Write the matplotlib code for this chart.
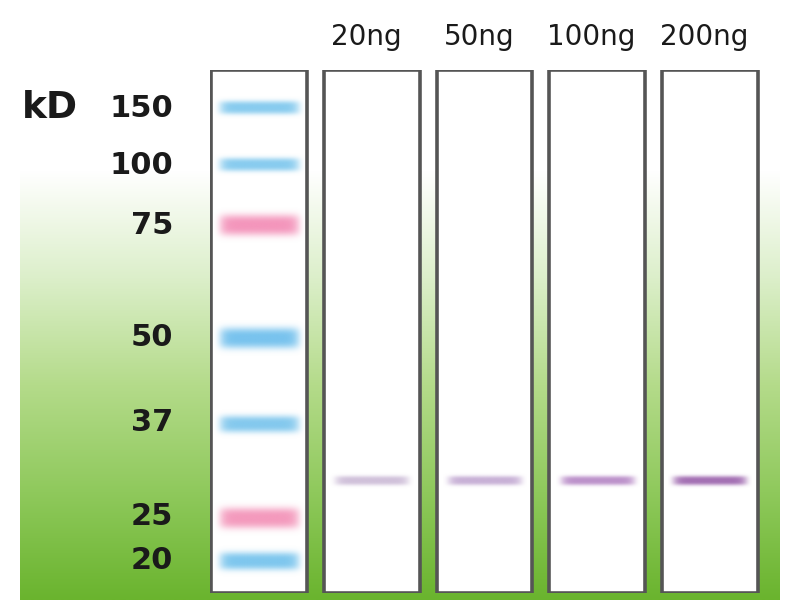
import numpy as np
import matplotlib.pyplot as plt
from matplotlib.colors import LinearSegmentedColormap, to_rgb
from matplotlib.patches import Rectangle

# marker ladder (kD) and relative migration (0 = top of lane, 1 = bottom)
marker_kd = ["150", "100", "75", "50", "37", "25", "20"]
marker_rf = [0.073, 0.182, 0.297, 0.513, 0.676, 0.856, 0.939]
marker_col = ["#88ccef", "#88ccef", "#f496bc", "#78c3ee", "#84c9ee", "#f49abd", "#7ec7ee"]
marker_thick = [0.020, 0.020, 0.032, 0.032, 0.026, 0.032, 0.027]

# sample lanes
lane_labels = ["20ng", "50ng", "100ng", "200ng"]
band_rf = [0.785, 0.785, 0.785, 0.785]
band_col = ["#c8b6d4", "#c2a8d2", "#b98cc8", "#a470b4"]
band_strength = [0.85, 0.9, 0.95, 1.0]

fig = plt.figure(figsize=(8, 6), dpi=100)

# green backdrop
bg = fig.add_axes([0, 0, 1, 1])
bg.set_xlim(0, 800)
bg.set_ylim(600, 0)
bg.axis("off")
green = LinearSegmentedColormap.from_list("g", ["#ffffff", "#dcefca", "#b4db8a", "#8fc95c", "#6ab42e"])
grad = np.linspace(0, 1, 256).reshape(-1, 1)
bg.imshow(grad, cmap=green, aspect="auto", extent=[20, 780, 600, 170], zorder=0)

# gel axes: x = lane index, y = relative migration
gel = fig.add_axes([210 / 800, 1 - 593 / 600, 550 / 800, 523 / 600])
gel.patch.set_alpha(0)
gel.axis("off")

hw = 0.425
for i in range(5):
    gel.add_patch(Rectangle((i - hw, 0), 2 * hw, 1, facecolor="white",
                            edgecolor="#555555", lw=2.6, zorder=1))

def band(x, y, color, h, alpha, half=0.33):
    # soft-edged band drawn as an rgba image
    yy = np.linspace(-2.5, 2.5, 60).reshape(-1, 1)
    xx = np.linspace(-1, 1, 120).reshape(1, -1)
    a = np.exp(-np.abs(yy) ** 3 / 2.0) * np.exp(-(np.abs(xx) / 0.88) ** 10)
    img = np.zeros((60, 120, 4))
    img[..., :3] = to_rgb(color)
    img[..., 3] = a * alpha
    gel.imshow(img, extent=[x - half, x + half, y + 2.5 * h / 2, y - 2.5 * h / 2],
               aspect="auto", interpolation="bilinear", zorder=2)

for y, c, t in zip(marker_rf, marker_col, marker_thick):
    band(0, y, c, t, 1.0, 0.40)

for i, (y, c, s) in enumerate(zip(band_rf, band_col, band_strength)):
    band(i + 1, y, c, 0.014, s, 0.37)

gel.set_xlim(-0.435, 4.443)
gel.set_ylim(1, 0)

# labels
bg.text(50, 108, "kD", fontsize=27, fontweight="bold", ha="center", va="center", color="#1a1a1a")
for kd, y in zip(marker_kd, marker_rf):
    bg.text(173, 70 + y * 522, kd, fontsize=22, fontweight="bold", ha="right", va="center", color="#1a1a1a")
for i, lab in enumerate(lane_labels):
    gel.text(i + 1 - 0.05, -0.064, lab, fontsize=20, ha="center", va="center", color="#1a1a1a")

fig.savefig("out.png", dpi=100)
